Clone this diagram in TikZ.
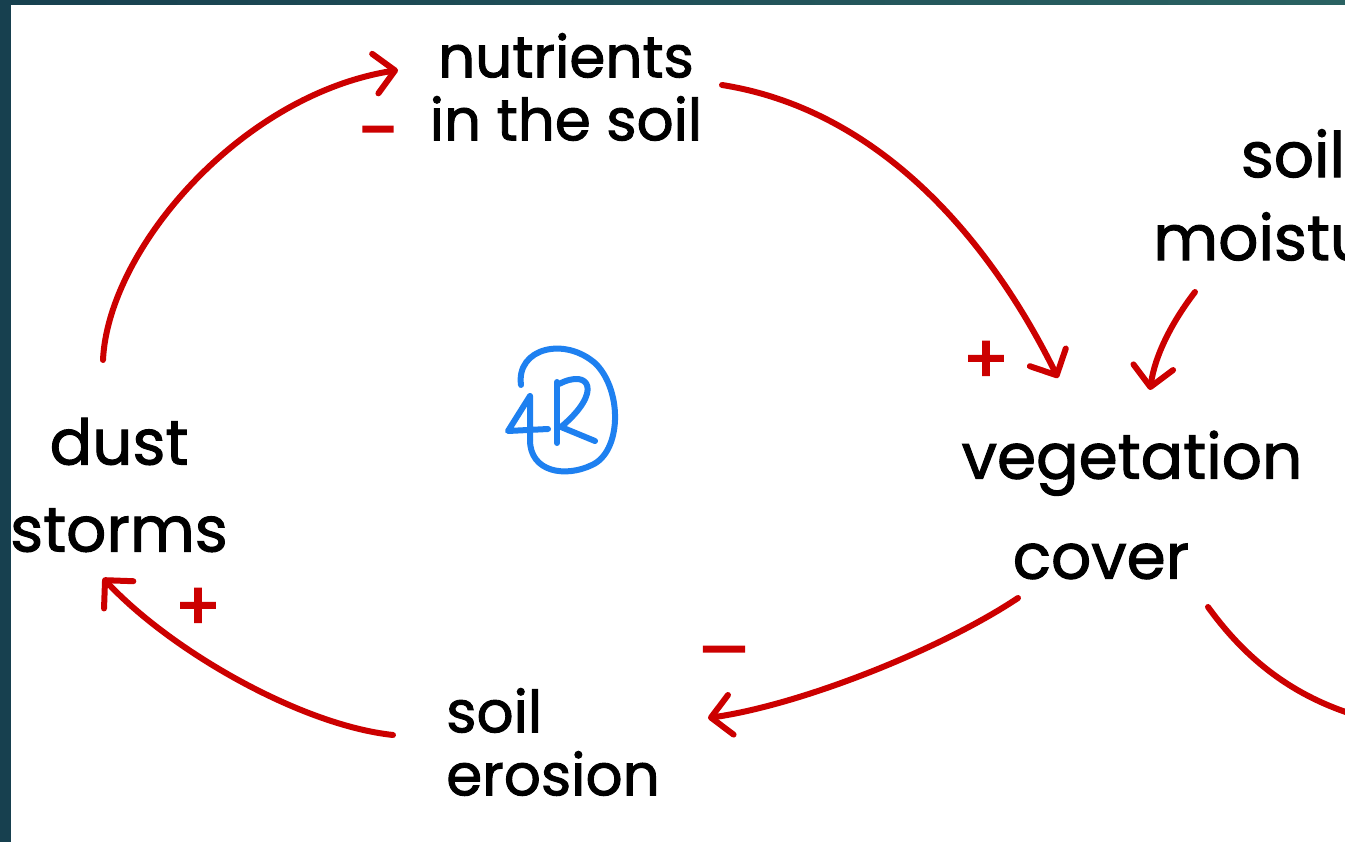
\documentclass[tikz,border=0pt]{standalone}
\usepackage{fontspec}
\setmainfont{Poppins}
\newfontfamily\hand{Poppins}[FakeBold=1.6]
\newfontfamily\signfont{Poppins}[FakeBold=3]
\usetikzlibrary{arrows.meta}
\definecolor{myred}{HTML}{CC0000}
\definecolor{myblue}{HTML}{1E80F0}
\definecolor{edgeA}{HTML}{17404F}
\definecolor{edgeB}{HTML}{2A6262}
\tikzset{
  concept/.style={font=\hand\fontsize{58}{63}\selectfont, align=center, inner sep=0pt, text=black},
  bigconcept/.style={concept, font=\hand\fontsize{63}{63}\selectfont},
  conn/.style={draw=myred, line width=6pt, line cap=round, line join=round,
    -{Straight Barb[length=20pt,width=40pt,line width=6pt,round]}},
  sign/.style={text=myred, font=\signfont\fontsize{66}{66}\selectfont, inner sep=0pt},
  loopsym/.style={draw=myblue, line width=6pt, line cap=round, line join=round}
}
\begin{document}
\begin{tikzpicture}[x=1pt,y=-1pt]
\useasboundingbox (0,0) rectangle (1345,842);
\clip (0,0) rectangle (1345,842);
\fill[white] (0,0) rectangle (1345,842);
\fill[edgeA] (0,0) rectangle (11,842);
\shade[left color=edgeA, right color=edgeB] (0,0) rectangle (1345,5);

% concepts
\node[concept] (nut) at (566,87) {nutrients\\in the soil};
\node[bigconcept] (veg) at (1132,505) {vegetation\\[37pt]cover\hspace*{62pt}};
\node[bigconcept] (sm) at (1293,195) {soil\\[20pt]moisture};
\node[bigconcept] (ds) at (119,485) {dust\\[24pt]storms};
\node[concept, align=left] (se) at (553,742) {soil\\erosion};

% anchor points of connectors
\coordinate (dsT) at (103,360);
\coordinate (nutL) at (398,70);
\coordinate (nutR) at (722,85);
\coordinate (vegT) at (1058,378);
\coordinate (smB) at (1195,292);
\coordinate (vegT2) at (1150,390);
\coordinate (vegB) at (1018,598);
\coordinate (seR) at (708,718);
\coordinate (seL) at (393,735);
\coordinate (dsB) at (103,578);
\coordinate (vegBR) at (1208,607);
\coordinate (offR) at (1365,718);

% connectors
\draw[conn] (dsT) .. controls (108,250) and (240,95) .. (nutL);
\draw[conn] (nutR) .. controls (880,110) and (990,240) .. (vegT);
\draw[conn] (smB) .. controls (1172,322) and (1155,355) .. (vegT2);
\draw[conn] (vegB) .. controls (940,650) and (800,705) .. (seR);
\draw[conn] (seL) .. controls (300,725) and (170,650) .. (dsB);
\draw[conn, -] (vegBR) .. controls (1250,665) and (1300,700) .. (offR);

% polarity signs
\node[sign, xscale=1.1] (p1) at (378,140) {−};
\node[sign] (p2) at (986,362) {+};
\node[sign, xscale=1.5] (p3) at (724,660) {−};
\node[sign] (p4) at (198,609) {+};

% loop symbol
\draw[loopsym] (521,385) .. controls (516,348) and (565,336) .. (596,364)
  .. controls (623,392) and (621,452) .. (592,465)
  .. controls (565,478) and (530,472) .. (530,440);
\draw[loopsym] (530,440) -- (530,396) -- (508,431) -- (548,429);
\draw[loopsym] (557,382) -- (557,443);
\draw[loopsym] (559,384) .. controls (590,368) and (603,392) .. (561,427) -- (595,441);
\end{tikzpicture}
\end{document}
